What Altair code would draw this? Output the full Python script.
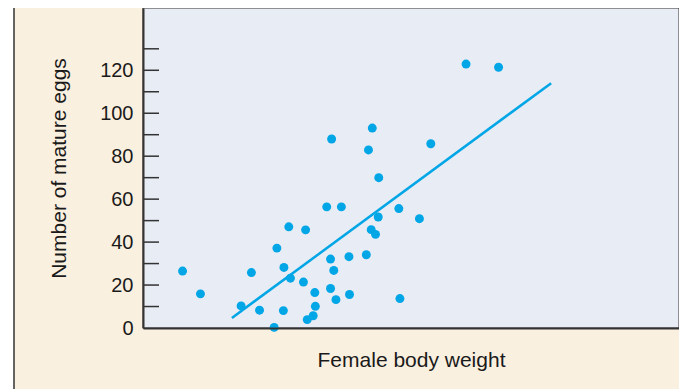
import altair as alt
import pandas as pd

# Female body weight (arbitrary units, axis unlabelled) and number of mature eggs
weight = [7.3, 10.6, 18.1, 20.0, 21.5, 24.2, 24.7, 25.9, 26.0, 26.9, 27.2, 29.6, 30.0,
          30.3, 31.4, 31.7, 31.8, 33.9, 34.6, 34.6, 34.8, 35.2, 35.6, 36.6, 38.0, 38.1,
          41.2, 41.6, 42.1, 42.3, 42.9, 43.4, 43.5, 47.2, 47.4, 51.0, 53.1, 59.6, 65.6]
eggs = [26.5, 15.9, 10.3, 25.8, 8.3, 0.3, 37.2, 8.1, 28.2, 47.1, 23.2, 21.4, 45.7,
        3.9, 5.7, 16.5, 10.1, 56.4, 32.1, 18.4, 88.0, 26.8, 13.2, 56.4, 33.2, 15.6,
        34.1, 82.9, 45.8, 93.1, 43.6, 51.7, 70.0, 55.6, 13.7, 50.9, 85.8, 122.9, 121.4]

# fitted regression line end points
fit_w = [16.4, 75.3]
fit_e = [4.7, 114.0]

# y-axis tick marks and labels
tick_values = [10, 20, 30, 40, 50, 60, 70, 80, 90, 100, 110, 120, 130]
label_values = [0, 20, 40, 60, 80, 100, 120]

W, H = 536, 320
XMAX = 100 * W / 542
BLUE = "#00a6e6"
CREAM = "#faf0e0"
LAVENDER = "#e8ecf5"
DARK = "#333333"
FONT = "Liberation Sans"

pts = pd.DataFrame({"w": weight, "e": eggs})
fit = pd.DataFrame({"w": fit_w, "e": fit_e})
ticks = pd.DataFrame({"e": tick_values})
one = pd.DataFrame({"k": [0]})

xs = alt.Scale(domain=[0, XMAX], nice=False, zero=False)
ys = alt.Scale(domain=[0, 149], nice=False)

x_axis = alt.Axis(
    title="Female body weight", labels=False, ticks=False, grid=False,
    domainColor=DARK, domainWidth=2, titleFont=FONT, titleFontSize=21,
    titleFontWeight="normal", titleColor="#1a1a1a", titlePadding=21, zindex=2)
y_axis = alt.Axis(
    title="Number of mature eggs", values=label_values, ticks=False, grid=False,
    domainColor=DARK, domainWidth=2, labelFont=FONT, labelFontSize=20,
    labelColor="#1a1a1a", labelPadding=10, titleFont=FONT, titleFontSize=21,
    titleFontWeight="normal", titleColor="#1a1a1a", titlePadding=30, zindex=2)

outer = alt.Chart(one).mark_rect(fill=CREAM, stroke=DARK, strokeWidth=1.5).encode(
    x=alt.value(-129), x2=alt.value(W + 1), y=alt.value(-1), y2=alt.value(400)
)
panel = alt.Chart(one).mark_rect(fill=LAVENDER, stroke=DARK, strokeWidth=1).encode(
    x=alt.value(0), x2=alt.value(W), y=alt.value(0), y2=alt.value(H)
)
tick_rules = alt.Chart(ticks).mark_rule(color=DARK, strokeWidth=1.5).encode(
    y=alt.Y("e:Q", scale=ys, axis=y_axis), x=alt.value(0), x2=alt.value(16)
)
line = alt.Chart(fit).mark_line(color=BLUE, strokeWidth=2.5).encode(
    x=alt.X("w:Q", scale=xs, axis=x_axis), y=alt.Y("e:Q", scale=ys, axis=y_axis)
)
points = alt.Chart(pts).mark_circle(color=BLUE, size=80, opacity=1).encode(
    x=alt.X("w:Q", scale=xs, axis=x_axis),
    y=alt.Y("e:Q", scale=ys, axis=y_axis),
)

chart = alt.layer(outer, panel, tick_rules, line, points).properties(
    width=W, height=H,
    autosize=alt.AutoSizeParams(type="none"),
    padding={"left": 135, "top": 0, "right": 0, "bottom": 61},
).configure_view(stroke=None).configure(background="white")

chart.save("out.html", embed_options={"renderer": "svg", "actions": False})
